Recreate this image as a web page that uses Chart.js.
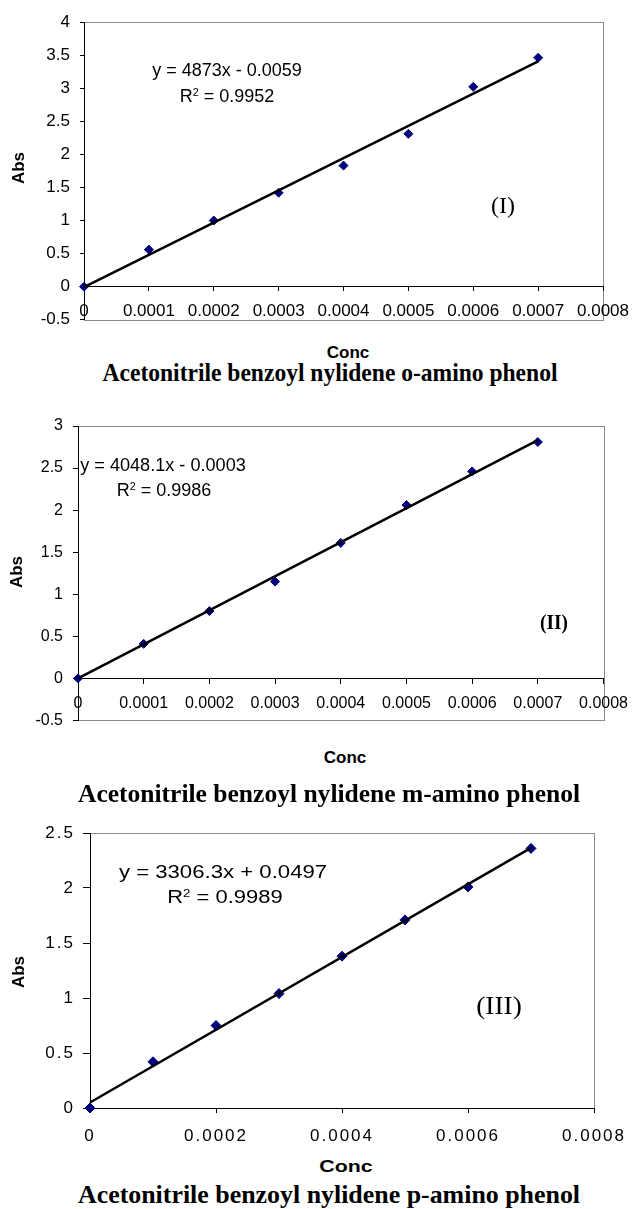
<!DOCTYPE html>
<html>
<head>
<meta charset="utf-8">
<script src="https://cdn.jsdelivr.net/npm/chart.js@4/dist/chart.umd.min.js"></script>
<style>
  body { margin: 0; background: #fff; }
  #page { position: relative; width: 639px; height: 1209px; overflow: hidden; }
  canvas { position: absolute; left: 0; }
  .lbl { position: absolute; white-space: nowrap; line-height: 1; color: #000; }
  .sans { font-family: "Liberation Sans", Arial, sans-serif; }
  .serif { font-family: "Liberation Serif", "Times New Roman", serif; }
  .sq { font-size: 60%; position: relative; top: -0.55em; }
</style>
</head>
<body>
<div id="page">
  <canvas id="chartO" width="639" height="340" style="top:0px"></canvas>
  <canvas id="chartM" width="639" height="340" style="top:400px"></canvas>
  <canvas id="chartP" width="639" height="350" style="top:800px"></canvas>

  <!-- (I) -->
  <div class="lbl sans" style="left:227px;top:70px;font-size:18px" data-w="150">y = 4873x - 0.0059</div>
  <div class="lbl sans" style="left:227px;top:96px;font-size:18px" data-w="95">R<span class="sq">2</span> = 0.9952</div>
  <div class="lbl serif" style="left:503px;top:205px;font-size:24px">(I)</div>
  <div class="lbl sans" style="left:18px;top:168px;font-size:17px;font-weight:bold" data-rot="1">Abs</div>
  <div class="lbl sans" style="left:348px;top:352px;font-size:17px;font-weight:bold">Conc</div>
  <div class="lbl serif" style="left:330px;top:373px;font-size:26px;font-weight:bold" data-w="455">Acetonitrile benzoyl nylidene o-amino phenol</div>

  <!-- (II) -->
  <div class="lbl sans" style="left:163px;top:465px;font-size:18px" data-w="166">y = 4048.1x - 0.0003</div>
  <div class="lbl sans" style="left:164px;top:490px;font-size:18px" data-w="95">R<span class="sq">2</span> = 0.9986</div>
  <div class="lbl serif" style="left:554px;top:622px;font-size:22px;font-weight:bold" data-w="28">(II)</div>
  <div class="lbl sans" style="left:16px;top:572px;font-size:17px;font-weight:bold" data-rot="1">Abs</div>
  <div class="lbl sans" style="left:345px;top:757px;font-size:17px;font-weight:bold">Conc</div>
  <div class="lbl serif" style="left:329px;top:794px;font-size:26px;font-weight:bold" data-w="502">Acetonitrile benzoyl nylidene m-amino phenol</div>

  <!-- (III) -->
  <div class="lbl sans" style="left:223px;top:872px;font-size:18px" data-w="208">y = 3306.3x + 0.0497</div>
  <div class="lbl sans" style="left:225px;top:897px;font-size:18px" data-w="116">R<span class="sq">2</span> = 0.9989</div>
  <div class="lbl serif" style="left:499px;top:1005px;font-size:25px" data-w="46">(III)</div>
  <div class="lbl sans" style="left:18px;top:972px;font-size:17px;font-weight:bold" data-rot="1">Abs</div>
  <div class="lbl sans" style="left:346px;top:1166px;font-size:17px;font-weight:bold" data-w="54">Conc</div>
  <div class="lbl serif" style="left:329px;top:1195px;font-size:26px;font-weight:bold" data-w="502">Acetonitrile benzoyl nylidene p-amino phenol</div>
</div>

<script>
// concentrations (same for all three compounds)
const conc = [0, 0.0001, 0.0002, 0.0003, 0.0004, 0.0005, 0.0006, 0.0007];

// absorbance
const absOrtho = [0, 0.56, 1.0, 1.42, 1.83, 2.31, 3.02, 3.46];
const absMeta = [0, 0.41, 0.80, 1.15, 1.61, 2.06, 2.46, 2.81];
const absPara = [0, 0.42, 0.75, 1.04, 1.38, 1.71, 2.01, 2.36];

// trendlines from the printed equations: [slope, intercept]
const fitOrtho = [4873, -0.0059];
const fitMeta = [4048.1, -0.0003];
const fitPara = [3306.3, 0.0497];

// tick labels
const xTicksFine = ['0', '0.0001', '0.0002', '0.0003', '0.0004', '0.0005', '0.0006', '0.0007', '0.0008'];
const xTicksCoarse = ['0', '0.0002', '0.0004', '0.0006', '0.0008'];
const yTicksOrtho = ['-0.5', '0', '0.5', '1', '1.5', '2', '2.5', '3', '3.5', '4'];
const yTicksMeta = ['-0.5', '0', '0.5', '1', '1.5', '2', '2.5', '3'];
const yTicksPara = ['0', '0.5', '1', '1.5', '2', '2.5'];

// grey frame round the plot area, axes are drawn black over it
const plotFrame = {
  id: 'plotFrame',
  beforeDraw(chart) {
    const { ctx, chartArea: a } = chart;
    ctx.save();
    ctx.strokeStyle = '#8a8a8a';
    ctx.lineWidth = 1;
    ctx.strokeRect(Math.round(a.left) + 0.5, Math.round(a.top) + 0.5, Math.round(a.width), Math.round(a.height));
    ctx.restore();
  }
};

// the third plot is stretched sideways, so its tick text is spaced out
const spacing = {
  id: 'spacing',
  beforeUpdate(chart, args, opts) { chart.ctx.letterSpacing = (opts.px || 0) + 'px'; },
  beforeDraw(chart, args, opts) { chart.ctx.letterSpacing = (opts.px || 0) + 'px'; }
};

const tickFont = size => ({ family: "'Liberation Sans', Arial, sans-serif", size: size });

function drawChart(id, o) {
  const xVals = o.xTicks.map(Number);
  const yVals = o.yTicks.map(Number);
  const lastX = conc[conc.length - 1];

  new Chart(document.getElementById(id), {
    type: 'scatter',
    data: {
      datasets: [
        {
          data: conc.map((x, i) => ({ x: x, y: o.abs[i] })),
          pointStyle: 'rectRot',
          pointRadius: o.r,
          backgroundColor: '#00007f',
          borderColor: '#00007f',
          borderWidth: 1,
          clip: false,
          order: 1
        },
        {
          data: [{ x: 0, y: o.fit[1] }, { x: lastX, y: o.fit[0] * lastX + o.fit[1] }],
          showLine: true,
          pointRadius: 0,
          borderColor: '#000',
          borderWidth: 2.5,
          clip: false,
          order: 0
        }
      ]
    },
    options: {
      responsive: false,
      animation: false,
      events: [],
      layout: { padding: o.pad },
      plugins: {
        legend: { display: false },
        tooltip: { enabled: false },
        spacing: { px: o.spacing }
      },
      scales: {
        x: {
          type: 'linear',
          position: o.xPos,
          min: xVals[0],
          max: xVals[xVals.length - 1],
          afterBuildTicks: s => { s.ticks = xVals.map(v => ({ value: v })); },
          afterFit: s => { if (o.xH) s.height = o.xH; },
          grid: { drawOnChartArea: false, color: '#000', tickLength: o.xTick },
          border: { color: '#000', width: 1 },
          ticks: {
            autoSkip: false, maxRotation: 0, minRotation: 0,
            padding: o.xPad, color: '#000', font: tickFont(o.fs),
            callback: (v, i) => o.xTicks[i]
          }
        },
        y: {
          type: 'linear',
          min: yVals[0],
          max: yVals[yVals.length - 1],
          afterBuildTicks: s => { s.ticks = yVals.map(v => ({ value: v })); },
          afterFit: s => { s.width = 60; },
          grid: { drawOnChartArea: false, color: '#000', tickLength: o.yTick },
          border: { color: '#000', width: 1 },
          ticks: {
            autoSkip: false, padding: o.yPad, color: '#000', font: tickFont(o.fs),
            callback: (v, i) => o.yTicks[i]
          }
        }
      }
    },
    plugins: [plotFrame, spacing]
  });
}

drawChart('chartO', {
  abs: absOrtho, fit: fitOrtho, xTicks: xTicksFine, yTicks: yTicksOrtho,
  pad: { left: 24, top: 22, right: 28, bottom: 20 },
  xPos: { y: 0 }, xTick: 4, xPad: 10, yTick: 4, yPad: 10, fs: 17, r: 4.5, spacing: 0
});

drawChart('chartM', {
  abs: absMeta, fit: fitMeta, xTicks: xTicksFine, yTicks: yTicksMeta,
  pad: { left: 18, top: 26, right: 30, bottom: 18 },
  xPos: { y: 0 }, xTick: 5, xPad: 11, yTick: 5, yPad: 10, fs: 16, r: 4.5, spacing: 0
});

drawChart('chartP', {
  abs: absPara, fit: fitPara, xTicks: xTicksCoarse, yTicks: yTicksPara,
  pad: { left: 30, top: 33, right: 36, bottom: 2 },
  xPos: 'bottom', xH: 40, xTick: 5, xPad: 13, yTick: 7, yPad: 8, fs: 17, r: 5, spacing: 2
});

// centre each text label on its spot and squeeze / stretch it to the measured width
document.querySelectorAll('.lbl').forEach(el => {
  const w = Number(el.dataset.w || 0);
  const k = w ? w / el.offsetWidth : 1;
  const rot = el.dataset.rot ? ' rotate(-90deg)' : '';
  el.style.transform = 'translate(-50%, -50%)' + rot + ' scaleX(' + k.toFixed(3) + ')';
});
</script>
</body>
</html>
